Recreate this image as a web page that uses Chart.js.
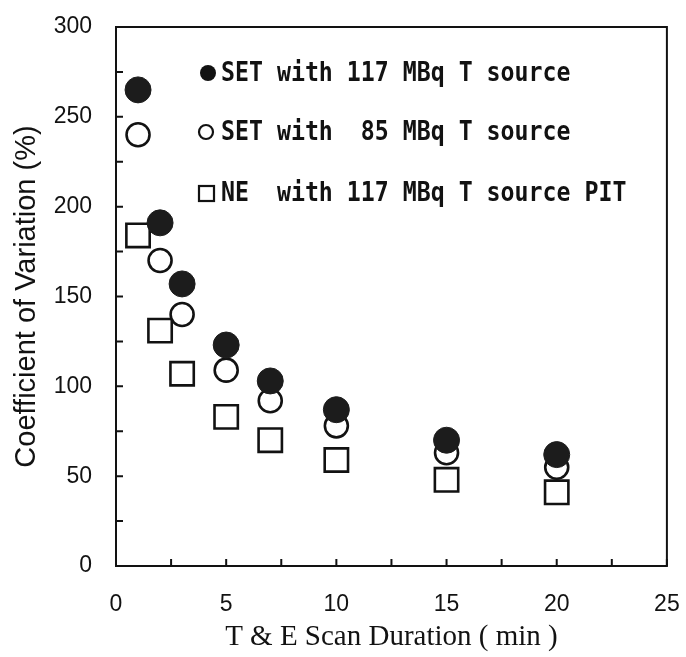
<!doctype html>
<html lang="en">
<head>
    <meta charset="utf-8">
    <script src="https://cdn.jsdelivr.net/npm/chart.js"></script>
    <style>
        html, body { margin: 0; padding: 0; background: #fff; }
        #wrap { width: 686px; height: 657px; }
    </style>
</head>
<body>
    <div id="wrap"><canvas id="myChart" width="686" height="657"></canvas></div>
    <script>
        // scan duration (min)
        const durations = [1, 2, 3, 5, 7, 10, 15, 20];
        // coefficient of variation (%)
        const set117 = [265, 191, 157, 123, 103, 87, 70, 62];
        const set85 = [240, 170, 140, 109, 92, 78, 63, 55];
        const ne117 = [184, 131, 107, 83, 70, 59, 48, 41];
        const legendLabels = [
            'SET with 117 MBq T source',
            'SET with  85 MBq T source',
            'NE  with 117 MBq T source PIT'
        ];
        const yTicks = [0, 50, 100, 150, 200, 250, 300];
        const xTicks = [0, 5, 10, 15, 20, 25];

        const ink = '#121212';

        function toPoints(vals) {
            return durations.map((d, i) => ({ x: d, y: vals[i] }));
        }

        // frame, inward ticks and the in-plot legend
        const framePlugin = {
            id: 'frame',
            afterDatasetsDraw(chart) {
                const ctx = chart.ctx;
                const a = chart.chartArea;
                const xs = chart.scales.x;
                const ys = chart.scales.y;
                ctx.save();
                ctx.strokeStyle = ink;
                ctx.lineWidth = 2;
                ctx.strokeRect(a.left, a.top, a.right - a.left, a.bottom - a.top);
                ctx.beginPath();
                for (let v = 0; v <= 300; v += 25) {
                    const p = ys.getPixelForValue(v);
                    ctx.moveTo(a.left, p);
                    ctx.lineTo(a.left + 7, p);
                }
                for (let v = 0; v <= 25; v += 2.5) {
                    const p = xs.getPixelForValue(v);
                    ctx.moveTo(p, a.bottom);
                    ctx.lineTo(p, a.bottom - 7);
                }
                ctx.stroke();

                // legend
                const lx = a.left + 92;
                const rows = [a.top + 46, a.top + 105, a.top + 166];
                ctx.fillStyle = ink;
                ctx.beginPath();
                ctx.arc(lx, rows[0], 8, 0, Math.PI * 2);
                ctx.fill();
                ctx.lineWidth = 2.2;
                ctx.beginPath();
                ctx.arc(lx - 2, rows[1], 7, 0, Math.PI * 2);
                ctx.stroke();
                ctx.strokeRect(lx - 9, rows[2] - 7, 15, 15);

                ctx.font = 'bold 27px "DejaVu Sans Mono"';
                ctx.textBaseline = 'middle';
                legendLabels.forEach((t, i) => {
                    ctx.save();
                    ctx.translate(lx + 13, rows[i] + 1);
                    ctx.scale(0.86, 1);
                    ctx.fillText(t, 0, 0);
                    ctx.restore();
                });
                ctx.restore();
            }
        };

        const config = {
            type: 'scatter',
            data: {
                datasets: [{
                    label: legendLabels[0],
                    data: toPoints(set117),
                    pointStyle: 'circle',
                    pointRadius: 13,
                    backgroundColor: '#1c1c1c',
                    borderColor: '#1c1c1c',
                    borderWidth: 1
                }, {
                    label: legendLabels[1],
                    data: toPoints(set85),
                    pointStyle: 'circle',
                    pointRadius: 11.5,
                    backgroundColor: '#ffffff',
                    borderColor: ink,
                    borderWidth: 2.6
                }, {
                    label: legendLabels[2],
                    data: toPoints(ne117),
                    pointStyle: 'rect',
                    pointRadius: 16.5,
                    backgroundColor: '#ffffff',
                    borderColor: ink,
                    borderWidth: 2.6
                }]
            },
            options: {
                responsive: false,
                animation: false,
                layout: { padding: { top: 27, right: 13, left: 0, bottom: 0 } },
                plugins: {
                    legend: { display: false },
                    tooltip: { enabled: false }
                },
                scales: {
                    x: {
                        type: 'linear',
                        min: 0,
                        max: 25,
                        afterBuildTicks(scale) {
                            scale.ticks = xTicks.map(v => ({ value: v }));
                        },
                        afterFit(scale) {
                            scale.height = 91;
                            scale.paddingLeft = 0;
                            scale.paddingRight = 0;
                        },
                        grid: { display: false, drawTicks: false },
                        border: { display: false },
                        ticks: {
                            color: ink,
                            padding: 25,
                            maxRotation: 0,
                            font: { family: '"Liberation Sans", Arial', size: 23 }
                        },
                        title: {
                            display: true,
                            text: 'T & E Scan Duration ( min )',
                            color: ink,
                            padding: { top: 0, bottom: 2 },
                            font: { family: '"Liberation Serif", "Times New Roman"', size: 29 }
                        }
                    },
                    y: {
                        min: 0,
                        max: 300,
                        afterBuildTicks(scale) {
                            scale.ticks = yTicks.map(v => ({ value: v }));
                        },
                        afterFit(scale) {
                            scale.width = 116;
                            scale.paddingTop = 0;
                            scale.paddingBottom = 0;
                        },
                        grid: { display: false, drawTicks: false },
                        border: { display: false },
                        ticks: {
                            color: ink,
                            padding: 24,
                            font: { family: '"Liberation Sans", Arial', size: 23 }
                        },
                        title: {
                            display: true,
                            text: 'Coefficient of Variation (%)',
                            color: ink,
                            padding: { top: 10, bottom: 0 },
                            font: { family: '"Liberation Sans", Arial', size: 29 }
                        }
                    }
                }
            },
            plugins: [framePlugin]
        };

        const myChart = new Chart(document.getElementById('myChart'), config);
    </script>
</body>
</html>
